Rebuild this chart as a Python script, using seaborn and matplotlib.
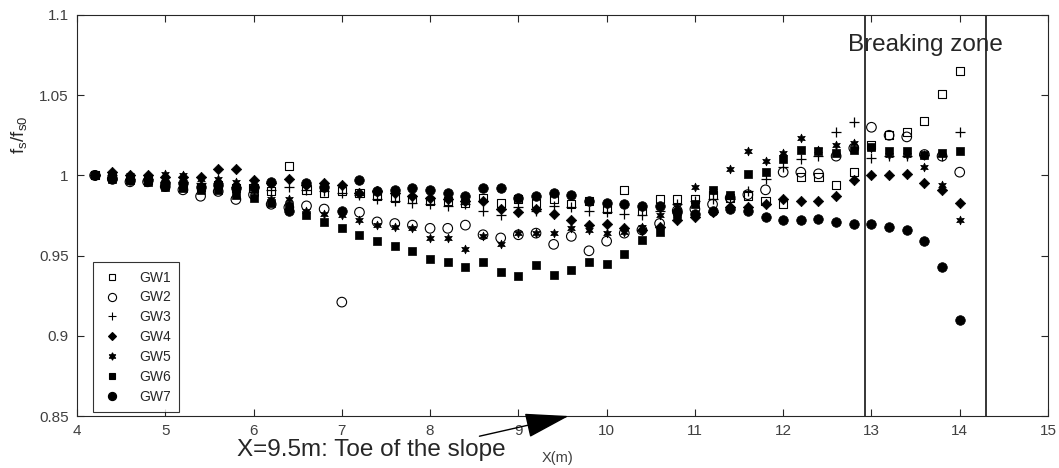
import numpy as np
import pandas as pd
import seaborn as sns
import matplotlib.pyplot as plt
from matplotlib.lines import Line2D

# positions along the flume (m)
x_pos = [4.2, 4.4, 4.6, 4.8, 5.0, 5.2, 5.4, 5.6, 5.8, 6.0,
         6.2, 6.4, 6.6, 6.8, 7.0, 7.2, 7.4, 7.6, 7.8, 8.0,
         8.2, 8.4, 8.6, 8.8, 9.0, 9.2, 9.4, 9.6, 9.8, 10.0,
         10.2, 10.4, 10.6, 10.8, 11.0, 11.2, 11.4, 11.6, 11.8, 12.0,
         12.2, 12.4, 12.6, 12.8, 13.0, 13.2, 13.4, 13.6, 13.8, 14.0]

gw1 = [1.0, 0.999, 0.998, 0.997, 0.994, 0.993, 0.993, 0.994, 0.992, 0.992,
       0.990, 1.006, 0.991, 0.989, 0.990, 0.989, 0.987, 0.986, 0.985, 0.984,
       0.984, 0.983, 0.986, 0.983, 0.985, 0.983, 0.985, 0.982, 0.984, 0.979,
       0.991, 0.978, 0.985, 0.985, 0.985, 0.988, 0.986, 0.987, 0.984, 0.982,
       0.999, 0.999, 0.994, 1.002, 1.019, 1.025, 1.027, 1.034, 1.051, 1.065]
gw2 = [1.0, 0.998, 0.996, 0.996, 0.993, 0.991, 0.987, 0.990, 0.985, 0.988,
       0.982, 0.980, 0.981, 0.979, 0.921, 0.977, 0.971, 0.970, 0.969, 0.967,
       0.967, 0.969, 0.963, 0.961, 0.963, 0.964, 0.957, 0.962, 0.953, 0.959,
       0.964, 0.966, 0.970, 0.978, 0.979, 0.982, 0.986, 0.988, 0.991, 1.002,
       1.002, 1.001, 1.012, 1.017, 1.030, 1.025, 1.024, 1.013, 1.012, 1.002]
gw3 = [1.0, 1.0, 0.998, 0.998, 0.996, 0.996, 0.995, 0.995, 0.993, 0.993,
       0.991, 0.993, 0.991, 0.990, 0.989, 0.988, 0.985, 0.984, 0.983, 0.982,
       0.981, 0.982, 0.978, 0.975, 0.980, 0.978, 0.981, 0.980, 0.978, 0.977,
       0.976, 0.975, 0.978, 0.982, 0.984, 0.985, 0.985, 0.990, 0.998, 1.005,
       1.010, 1.012, 1.027, 1.033, 1.011, 1.012, 1.012, 1.013, 1.012, 1.027]
gw4 = [1.0, 1.002, 1.0, 1.0, 0.999, 0.999, 0.999, 1.004, 1.004, 0.997,
       0.995, 0.998, 0.994, 0.995, 0.994, 0.989, 0.990, 0.989, 0.987, 0.986,
       0.985, 0.984, 0.984, 0.979, 0.977, 0.979, 0.976, 0.972, 0.969, 0.970,
       0.967, 0.966, 0.968, 0.972, 0.974, 0.977, 0.980, 0.980, 0.982, 0.985,
       0.984, 0.984, 0.987, 0.997, 1.0, 1.0, 1.001, 0.995, 0.991, 0.983]
gw5 = [1.0, 1.001, 1.0, 0.999, 1.001, 1.0, 0.998, 0.998, 0.996, 0.990,
       0.985, 0.985, 0.978, 0.976, 0.975, 0.972, 0.969, 0.968, 0.967, 0.961,
       0.961, 0.954, 0.962, 0.957, 0.964, 0.964, 0.964, 0.967, 0.966, 0.964,
       0.965, 0.968, 0.975, 0.980, 0.993, 0.990, 1.004, 1.015, 1.009, 1.014,
       1.023, 1.016, 1.019, 1.020, 1.017, 1.013, 1.013, 1.005, 0.994, 0.972]
gw6 = [1.0, 0.998, 0.997, 0.996, 0.993, 0.992, 0.991, 0.991, 0.988, 0.986,
       0.983, 0.981, 0.975, 0.971, 0.967, 0.963, 0.959, 0.956, 0.953, 0.948,
       0.946, 0.943, 0.946, 0.940, 0.937, 0.944, 0.938, 0.941, 0.946, 0.945,
       0.951, 0.960, 0.965, 0.976, 0.982, 0.991, 0.988, 1.001, 1.002, 1.010,
       1.016, 1.015, 1.014, 1.016, 1.018, 1.015, 1.015, 1.013, 1.014, 1.015]
gw7 = [1.0, 0.998, 0.997, 0.997, 0.995, 0.995, 0.993, 0.994, 0.992, 0.993,
       0.996, 0.978, 0.995, 0.993, 0.978, 0.997, 0.990, 0.991, 0.992, 0.991,
       0.989, 0.987, 0.992, 0.992, 0.986, 0.987, 0.989, 0.988, 0.984, 0.983,
       0.982, 0.981, 0.981, 0.977, 0.976, 0.978, 0.979, 0.978, 0.974, 0.972,
       0.972, 0.973, 0.971, 0.970, 0.970, 0.968, 0.966, 0.959, 0.943, 0.910]

series_names = ['GW1', 'GW2', 'GW3', 'GW4', 'GW5', 'GW6', 'GW7']
series_vals = [gw1, gw2, gw3, gw4, gw5, gw6, gw7]

breaking_zone = [12.93, 14.3]
x_ticks = [4, 5, 6, 7, 8, 9, 10, 11, 12, 13, 14, 15]
y_ticks = [0.85, 0.9, 0.95, 1.0, 1.05, 1.1]
y_ticklabels = ['0.85', '0.9', '0.95', '1', '1.05', '1.1']

# long table for seaborn
rows = []
for name, vals in zip(series_names, series_vals):
    for xv, yv in zip(x_pos, vals):
        rows.append({'X': xv, 'fs': yv, 'Series': name})
df = pd.DataFrame(rows)

sns.set_style('ticks')
plt.rcParams['font.family'] = ['Liberation Sans', 'DejaVu Sans']
plt.rcParams['mathtext.fontset'] = 'custom'
plt.rcParams['mathtext.rm'] = 'Liberation Sans'

# marker style per series (marker, filled, size)
styles = {'GW1': ('s', False, 34),
          'GW2': ('o', False, 48),
          'GW3': ('+', True, 55),
          'GW4': ('D', True, 28),
          'GW5': ((6, 1, 0), True, 40),
          'GW6': ('s', True, 30),
          'GW7': ('o', True, 48)}

fig = plt.figure(figsize=(10.59, 4.68), dpi=100)
ax = fig.add_axes([0.0727, 0.1111, 0.9169, 0.8569])

handles = []
for name in series_names:
    mk, filled, sz = styles[name]
    sub = df[df['Series'] == name]
    if mk == '+':
        sns.scatterplot(data=sub, x='X', y='fs', marker=mk, s=sz, color='black',
                        linewidth=0.9, ax=ax, legend=False)
    elif filled:
        sns.scatterplot(data=sub, x='X', y='fs', marker=mk, s=sz, color='black',
                        edgecolor='black', linewidth=0.5, ax=ax, legend=False)
    else:
        sns.scatterplot(data=sub, x='X', y='fs', marker=mk, s=sz, facecolor='none',
                        edgecolor='black', linewidth=0.8, ax=ax, legend=False)
    handles.append(Line2D([], [], linestyle='none', marker=mk, color='black',
                          markerfacecolor='black' if filled else 'none',
                          markersize=np.sqrt(sz) * 0.85, markeredgewidth=0.8,
                          label=name))

for xv in breaking_zone:
    ax.axvline(xv, color='black', linewidth=1.1)

ax.text(np.mean(breaking_zone), 1.081, 'Breaking zone', fontsize=17.5,
        ha='center', va='center')

ax.annotate('X=9.5m: Toe of the slope', xy=(9.57, 0.85), xytext=(7.33, 0.8285),
            fontsize=17.5, ha='center', va='center', annotation_clip=False,
            arrowprops=dict(arrowstyle='-|>,head_length=1.6,head_width=0.45',
                            color='black', lw=1.0, shrinkA=0, shrinkB=0,
                            relpos=(0.85, 1.0)))

ax.set_xlim(4, 15)
ax.set_ylim(0.85, 1.1)
ax.set_xticks(x_ticks)
ax.set_yticks(y_ticks)
ax.set_yticklabels(y_ticklabels)
ax.tick_params(direction='in', length=5, width=0.8, top=True, right=True,
               labelsize=11, labelcolor='#404040', color='#262626', pad=6)
for sp in ax.spines.values():
    sp.set_visible(True)
    sp.set_color('#262626')
    sp.set_linewidth(0.8)

ax.set_xlabel('X(m)', fontsize=10.5, color='#404040')
ax.xaxis.set_label_coords(0.495, -0.088)
ax.set_ylabel(r'$\mathregular{f_s/f_{s0}}$', fontsize=13.5, color='#262626')
ax.yaxis.set_label_coords(-0.049, 0.70)

leg = ax.legend(handles=handles, loc='lower left', bbox_to_anchor=(0.0165, 0.01),
                borderaxespad=0, fontsize=10, frameon=True, fancybox=False,
                edgecolor='black', handletextpad=1.1, labelspacing=0.42,
                borderpad=0.6, handlelength=1.6)
leg.get_frame().set_linewidth(0.8)

fig.savefig('out.png', dpi=100)
